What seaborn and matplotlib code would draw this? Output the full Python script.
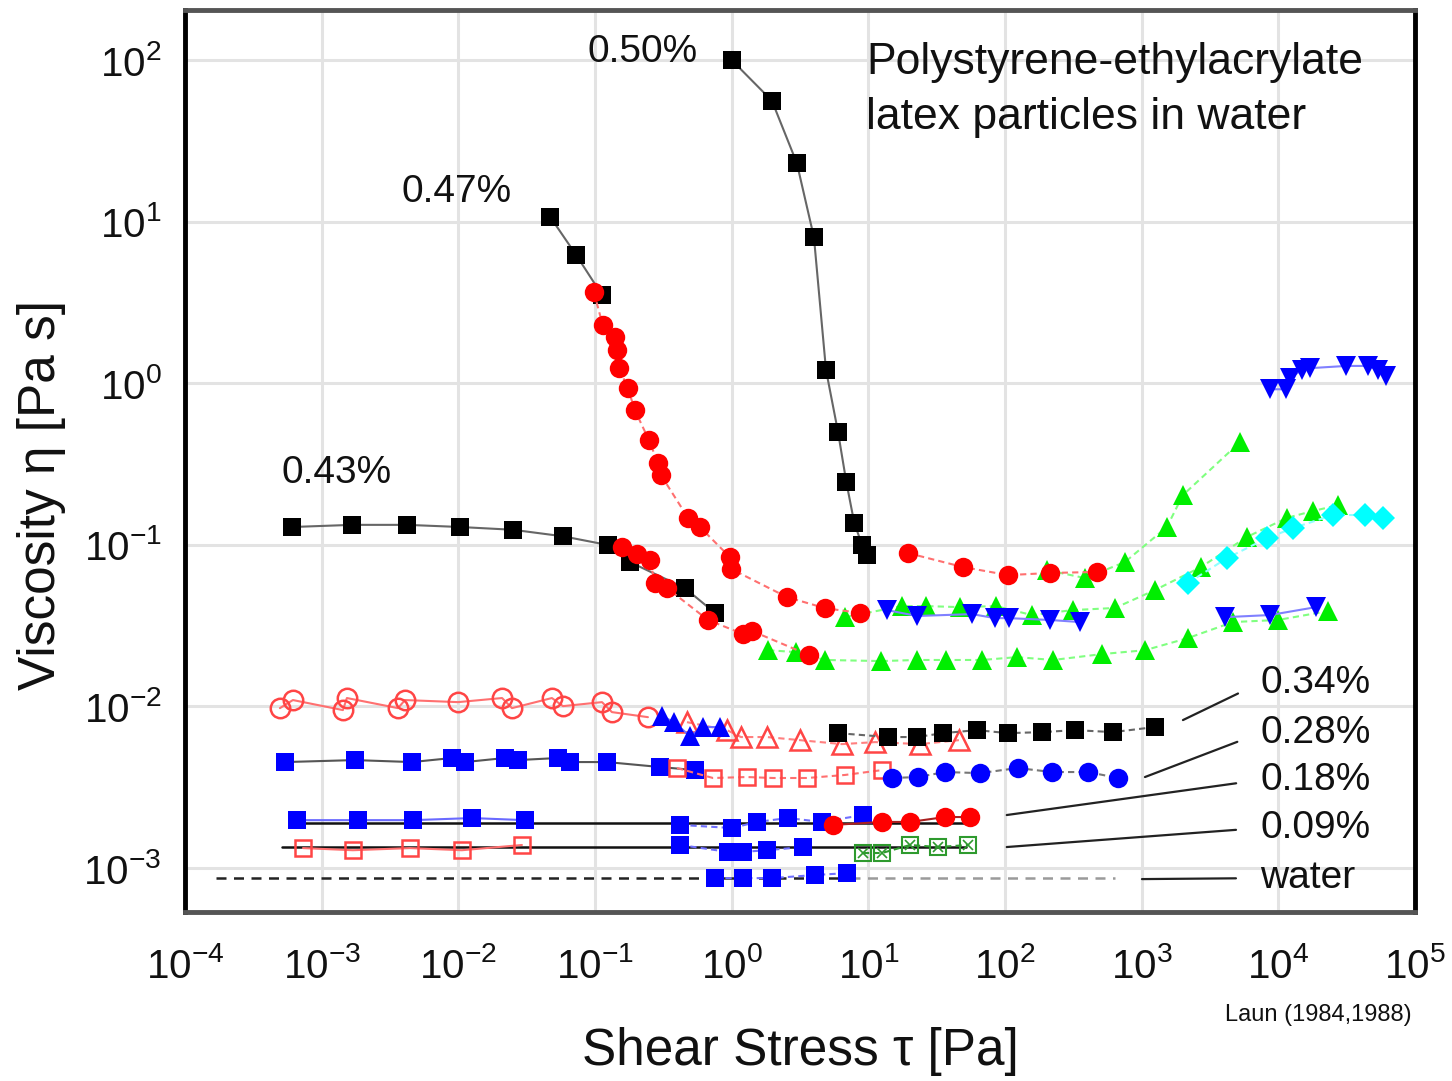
import matplotlib
matplotlib.use('Agg')
import matplotlib.pyplot as plt
import matplotlib.ticker as mticker
import seaborn as sns

# shear stress [Pa] / viscosity [Pa s]

# 0.50 %
c050_x = [1.0, 1.97, 3.0, 4.0, 4.9, 6.0, 6.9, 7.9, 9.0, 9.8]
c050_y = [100, 56, 23, 8.0, 1.21, 0.50, 0.245, 0.136, 0.100, 0.086]

# 0.47 %
c047_x = [0.047, 0.073, 0.113]
c047_y = [10.7, 6.2, 3.5]
c047_red_x = [0.098, 0.114, 0.140, 0.145, 0.150, 0.174, 0.196, 0.248, 0.289, 0.304,
              0.479, 0.586, 0.97, 0.99, 2.54, 4.82, 8.7]
c047_red_y = [3.66, 2.29, 1.93, 1.60, 1.24, 0.93, 0.68, 0.445, 0.321, 0.270,
              0.147, 0.129, 0.084, 0.071, 0.0475, 0.0406, 0.0379]
c047_red2_x = [19.5, 49, 105, 213, 471]
c047_red2_y = [0.089, 0.073, 0.065, 0.067, 0.068]
c047_green_x = [203, 385, 754, 1530, 2000, 5240]
c047_green_y = [0.0698, 0.0623, 0.0783, 0.129, 0.203, 0.432]
c047_blue_x = [8690, 11380, 12170, 14890, 17050, 31300, 45300, 53600, 61300]
c047_blue_y = [0.918, 0.918, 1.077, 1.21, 1.24, 1.28, 1.28, 1.21, 1.11]

# 0.43 %
c043_x = [6.1e-4, 1.67e-3, 4.2e-3, 0.0103, 0.0251, 0.0583, 0.1245, 0.180, 0.455, 0.755]
c043_y = [0.129, 0.133, 0.133, 0.129, 0.124, 0.113, 0.0998, 0.0783, 0.054, 0.0379]
c043_red_x = [0.158, 0.203, 0.252, 0.275, 0.336, 0.671, 1.21, 1.41, 3.68]
c043_red_y = [0.0969, 0.0877, 0.0805, 0.058, 0.0541, 0.0343, 0.0281, 0.0293, 0.0208]
c043_green_x = [6.75, 17.6, 26.4, 46.9, 86, 157, 314, 638, 1250, 2716, 5900, 11570, 17920, 27300]
c043_green_y = [0.0357, 0.0418, 0.0418, 0.0412, 0.0418, 0.0368, 0.0395, 0.0407, 0.0525,
                0.0729, 0.112, 0.147, 0.162, 0.176]
c043_blue_x = [13.7, 22.7, 57.3, 84.5, 107, 213, 354]
c043_blue_y = [0.0395, 0.0363, 0.0373, 0.0352, 0.0352, 0.0343, 0.0333]
c043_cyan_x = [2181, 4207, 8260, 12800, 25100, 43100, 58300]
c043_cyan_y = [0.0581, 0.0828, 0.110, 0.127, 0.153, 0.153, 0.1466]

# lower green branch with blue triangles
low_green_x = [1.85, 2.96, 4.82, 12.4, 22.7, 37.0, 67.9, 122, 225, 513, 1058, 2181, 4660, 9940, 23000]
low_green_y = [0.0223, 0.0217, 0.0194, 0.0191, 0.0194, 0.0194, 0.0194, 0.0202, 0.0194,
               0.0211, 0.0223, 0.0265, 0.0333, 0.0343, 0.0389]
low_blue_x = [4075, 8690, 18900]
low_blue_y = [0.0357, 0.0368, 0.0412]

# 0.34 %
c034_circ_x = [4.95e-4, 6.16e-4, 1.43e-3, 1.53e-3, 3.62e-3, 4.07e-3, 9.95e-3, 0.0209, 0.0247,
               0.0484, 0.0583, 0.1125, 0.133, 0.244]
c034_circ_y = [0.00977, 0.01096, 0.0095, 0.01128, 0.00977, 0.01096, 0.01064, 0.01128, 0.00977,
               0.01128, 0.01005, 0.01064, 0.00923, 0.00859]
c034_tri_x = [0.309, 0.378, 0.496, 0.617, 0.822]
c034_tri_y = [0.00873, 0.0080, 0.00655, 0.00746, 0.00746]
c034_otri_x = [0.471, 0.925, 1.17, 1.81, 3.16, 6.41, 11.2, 23.9, 46.0]
c034_otri_y = [0.0080, 0.00714, 0.00647, 0.00647, 0.00619, 0.00585, 0.00602, 0.00585, 0.00619]
c034_sq_x = [6.0, 13.9, 22.7, 35.2, 62.3, 105, 187, 325, 617, 1251]
c034_sq_y = [0.00684, 0.00647, 0.00647, 0.00684, 0.00714, 0.00684, 0.00694, 0.00714, 0.00694, 0.00746]

# 0.28 %
c028_sq_x = [5.4e-4, 1.75e-3, 4.58e-3, 9.0e-3, 0.0112, 0.0219, 0.0273, 0.0536, 0.0656, 0.1225, 0.299, 0.540]
c028_sq_y = [0.00453, 0.00466, 0.00453, 0.0048, 0.00453, 0.0048, 0.00466, 0.0048, 0.00453,
             0.00453, 0.00422, 0.00404]
c028_osq_x = [0.398, 0.730, 1.29, 2.01, 3.56, 6.75, 12.6]
c028_osq_y = [0.00416, 0.00361, 0.00366, 0.00361, 0.00361, 0.00377, 0.00404]
c028_circ_x = [14.9, 23.1, 36.4, 65.6, 124, 221, 405, 671]
c028_circ_y = [0.00361, 0.00366, 0.00393, 0.00387, 0.00416, 0.00393, 0.00393, 0.00361]

# 0.18 %
c018_sq_x = [6.6e-4, 1.85e-3, 4.66e-3, 0.0126, 0.0308]
c018_sq_y = [0.00198, 0.00198, 0.00198, 0.00204, 0.00198]
c018_sq2_x = [0.419, 1.006, 1.53, 2.58, 4.58, 9.14]
c018_sq2_y = [0.00185, 0.00177, 0.00193, 0.00204, 0.00193, 0.00213]
c018_circ_x = [5.51, 12.6, 20.2, 36.4, 55.5]
c018_circ_y = [0.00185, 0.00193, 0.00193, 0.00207, 0.00207]
c018_fit_x = [6.6e-4, 60]
c018_fit_y = [0.0019, 0.0019]

# 0.09 %
c009_osq_x = [7.3e-4, 1.69e-3, 4.43e-3, 0.0106, 0.0292]
c009_osq_y = [0.00133, 0.00129, 0.00133, 0.00129, 0.00139]
c009_sq_x = [0.419, 0.940, 1.21, 1.81, 3.33]
c009_sq_y = [0.00139, 0.00126, 0.00126, 0.00129, 0.00135]
c009_xsq_x = [9.14, 12.6, 20.2, 32.4, 53.6]
c009_xsq_y = [0.00124, 0.00124, 0.00139, 0.00135, 0.00139]
c009_fit_x = [5.1e-4, 52]
c009_fit_y = [0.00135, 0.00135]

# water
water_sq_x = [0.755, 1.21, 1.97, 4.07, 6.98]
water_sq_y = [0.000867, 0.000867, 0.000867, 0.000906, 0.000931]
water_fit_x = [1.69e-4, 7.35]
water_fit2_x = [7.35, 638]
water_fit_y = [0.000867, 0.000867]

# labels on the right with the point each leader line goes to
right_labels = ['0.34%', '0.28%', '0.18%', '0.09%', 'water']
right_label_y = [0.0140, 0.00684, 0.00351, 0.00177, 0.000867]
leader_x = [2005, 1057, 103, 103, 1005]
leader_y = [0.00824, 0.00366, 0.00213, 0.00135, 0.000855]

sns.set_theme(style='white')
plt.rcParams['font.family'] = ['Liberation Sans', 'DejaVu Sans']
plt.rcParams['mathtext.fontset'] = 'custom'
plt.rcParams['mathtext.rm'] = 'Liberation Sans'
plt.rcParams['mathtext.it'] = 'Liberation Sans:italic'
plt.rcParams['mathtext.bf'] = 'Liberation Sans:bold'
plt.rcParams['axes.unicode_minus'] = False

BLACK = '#000000'
RED = '#ff0000'
GREEN = '#00ee00'
BLUE = '#0000ff'
CYAN = '#00ffff'
ORED = '#ff4545'


def draw(ax, x, y, marker, color, ms, line, ls='-', lw=1.5, hollow=False, mew=1.8):
    sns.lineplot(x=x, y=y, ax=ax, estimator=None, sort=False, legend=False,
                 color=line, linestyle=ls, linewidth=lw,
                 marker=marker, markersize=ms,
                 markerfacecolor='none' if hollow else color,
                 markeredgecolor=color,
                 markeredgewidth=mew if hollow else 0)


fig = plt.figure(figsize=(14.52, 10.81), dpi=100)
ax = fig.add_axes([185 / 1452, 1 - 912 / 1081, 1230 / 1452, 902 / 1081])
ax.set_xscale('log')
ax.set_yscale('log')

DASH = (0, (3, 2))

# reference lines
sns.lineplot(x=c018_fit_x, y=c018_fit_y, ax=ax, color='#111111', lw=1.8, estimator=None, legend=False)
sns.lineplot(x=c009_fit_x, y=c009_fit_y, ax=ax, color='#111111', lw=1.8, estimator=None, legend=False)
sns.lineplot(x=water_fit_x, y=water_fit_y, ax=ax, color='#222222', lw=1.8, linestyle=(0, (4, 3)),
             estimator=None, legend=False)
sns.lineplot(x=water_fit2_x, y=water_fit_y, ax=ax, color='#9a9a9a', lw=1.8, linestyle=(0, (4, 3)),
             estimator=None, legend=False)

# lower concentrations
draw(ax, c034_circ_x, c034_circ_y, 'o', ORED, 14, '#ff7070', hollow=True)
draw(ax, c034_otri_x, c034_otri_y, '^', ORED, 15, '#ff8080', ls=DASH, hollow=True)
draw(ax, c034_tri_x, c034_tri_y, '^', BLUE, 15, '#7070ff')
draw(ax, c034_sq_x, c034_sq_y, 's', BLACK, 13, '#666666', ls=DASH)
draw(ax, c028_sq_x, c028_sq_y, 's', BLUE, 13, '#555555')
draw(ax, c028_osq_x, c028_osq_y, 's', ORED, 12, '#ff7070', ls=DASH, hollow=True)
draw(ax, c028_circ_x, c028_circ_y, 'o', BLUE, 14, '#777777', ls=DASH)
draw(ax, c018_sq_x, c018_sq_y, 's', BLUE, 13, '#6a6aff')
draw(ax, c018_sq2_x, c018_sq2_y, 's', BLUE, 13, '#7070ff', ls=DASH)
draw(ax, c018_circ_x, c018_circ_y, 'o', RED, 14, '#aa2020')
draw(ax, c009_osq_x, c009_osq_y, 's', ORED, 12, '#ff7070', hollow=True)
draw(ax, c009_sq_x, c009_sq_y, 's', BLUE, 13, '#7070ff', ls=DASH)
draw(ax, c009_xsq_x, c009_xsq_y, 's', '#2e9a2e', 11, '#2e9a2e', ls=DASH, hollow=True, mew=1.5)
draw(ax, c009_xsq_x, c009_xsq_y, 'x', '#2e9a2e', 7, '#2e9a2e', ls='none', hollow=True, mew=1.2)
draw(ax, water_sq_x, water_sq_y, 's', BLUE, 13, '#7070ff', ls=DASH)

# higher concentrations
draw(ax, low_green_x, low_green_y, '^', GREEN, 15, '#80ff80', ls=DASH)
draw(ax, c043_green_x, c043_green_y, '^', GREEN, 15, '#80ff80', ls=DASH)
draw(ax, c043_blue_x, c043_blue_y, 'v', BLUE, 15, '#8080ff')
draw(ax, low_blue_x, low_blue_y, 'v', BLUE, 15, '#8080ff')
draw(ax, c043_cyan_x, c043_cyan_y, 'D', CYAN, 12, '#90ffff', ls=DASH)
draw(ax, c043_x, c043_y, 's', BLACK, 13, '#666666')
draw(ax, c043_red_x, c043_red_y, 'o', RED, 14, '#ff7070', ls=DASH)
draw(ax, c047_green_x, c047_green_y, '^', GREEN, 15, '#80ff80', ls=DASH)
draw(ax, c047_blue_x, c047_blue_y, 'v', BLUE, 15, '#8080ff')
draw(ax, c047_x, c047_y, 's', BLACK, 13, '#666666')
draw(ax, c047_red_x, c047_red_y, 'o', RED, 14, '#ff7070', ls=DASH)
draw(ax, c047_red2_x, c047_red2_y, 'o', RED, 14, '#ff7070', ls=DASH)
draw(ax, c050_x, c050_y, 's', BLACK, 13, '#666666')

ax.set_xlim(1e-4, 1e5)
ax.set_ylim(5.35e-4, 204)

ax.xaxis.set_major_locator(mticker.LogLocator(base=10, numticks=20))
ax.xaxis.set_minor_locator(mticker.LogLocator(base=10, subs=range(2, 10), numticks=20))
ax.yaxis.set_major_locator(mticker.LogLocator(base=10, numticks=20))
ax.yaxis.set_minor_locator(mticker.LogLocator(base=10, subs=range(2, 10), numticks=20))
ax.xaxis.set_minor_formatter(mticker.NullFormatter())
ax.yaxis.set_minor_formatter(mticker.NullFormatter())
ax.xaxis.set_major_formatter(mticker.LogFormatterMathtext())
ax.yaxis.set_major_formatter(mticker.LogFormatterMathtext())

ax.grid(True, which='major', color='#e3e3e3', lw=2.2)
ax.set_axisbelow(True)
ax.tick_params(which='major', direction='out', length=9, width=1.6, labelsize=29,
               color='#111111', labelcolor='#111111')
ax.tick_params(which='minor', direction='out', length=5, width=1.4, color='#111111')
ax.tick_params(axis='x', pad=16)
ax.tick_params(axis='y', pad=8)

for side in ['left', 'right']:
    ax.spines[side].set_color('#000000')
    ax.spines[side].set_linewidth(3.5)
for side in ['top', 'bottom']:
    ax.spines[side].set_color('#555555')
    ax.spines[side].set_linewidth(3.5)

# series labels
ax.text(0.224, 112, '0.50%', fontsize=28, ha='center', va='center', color='#111111')
ax.text(0.00977, 15.2, '0.47%', fontsize=28, ha='center', va='center', color='#111111')
ax.text(1.29e-3, 0.278, '0.43%', fontsize=28, ha='center', va='center', color='#111111')
ax.text(0.554, 0.942, 'Polystyrene-ethylacrylate', transform=ax.transAxes,
        fontsize=32, ha='left', va='center', color='#111111')
ax.text(0.554, 0.881, 'latex particles in water', transform=ax.transAxes,
        fontsize=32, ha='left', va='center', color='#111111')

for lab, ly, px, py in zip(right_labels, right_label_y, leader_x, leader_y):
    ax.annotate(lab, xy=(px, py), xytext=(7350, ly), textcoords='data',
                fontsize=28, ha='left', va='center', color='#111111',
                arrowprops=dict(arrowstyle='-', color='#222222', lw=1.6,
                                shrinkA=15, shrinkB=0, relpos=(0, 0.5)))

fig.text(800 / 1452, 1 - 1052 / 1081, 'Shear Stress τ [Pa]', fontsize=37,
         ha='center', va='center', color='#111111')
fig.text(42 / 1452, 1 - 495 / 1081, 'Viscosity η [Pa s]', fontsize=37, rotation=90,
         ha='center', va='center', color='#111111')
fig.text(1412 / 1452, 1 - 1015 / 1081, 'Laun (1984,1988)', fontsize=17,
         ha='right', va='center', color='#111111')

fig.savefig('out.png', dpi=100)
